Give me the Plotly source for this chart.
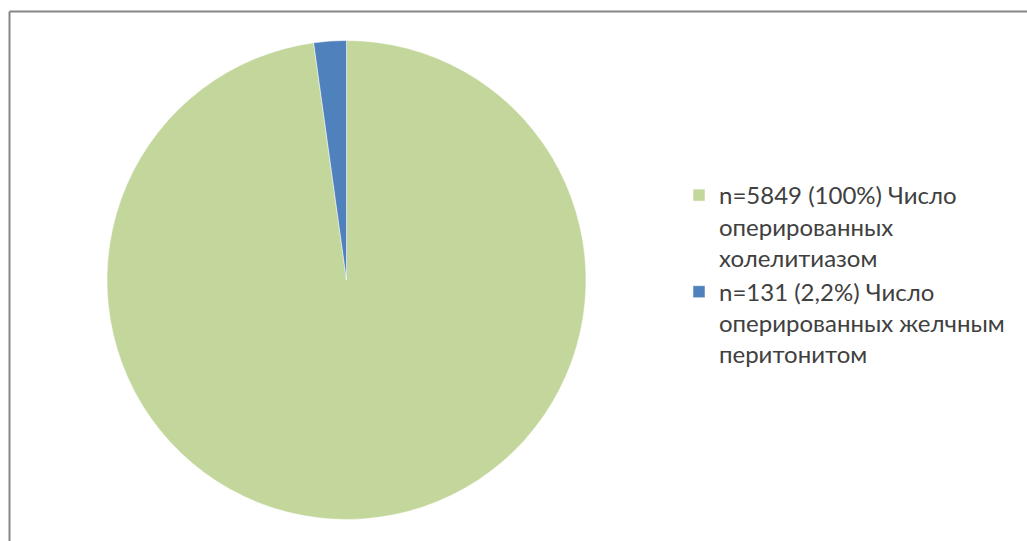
import plotly.graph_objects as go

labels = [
    "n=5849 (100%) Число<br>оперированных<br>холелитиазом",
    "n=131 (2,2%) Число<br>оперированных желчным<br>перитонитом",
]
values = [5849, 131]
colors = ["#C3D69B", "#4F81BD"]

W, H = 1027, 541

fig = go.Figure(
    go.Pie(
        labels=labels,
        values=values,
        sort=False,
        direction="clockwise",
        rotation=0,
        textinfo="none",
        hoverinfo="label+value",
        marker=dict(colors=colors, line=dict(color="#FFFFFF", width=0.5)),
        domain=dict(x=[107 / W, 586 / W], y=[1 - 520 / H, 1 - 40 / H]),
    )
)

fig.update_layout(
    width=W,
    height=H,
    margin=dict(l=0, r=0, t=0, b=0),
    paper_bgcolor="white",
    font=dict(family="Lato, Open Sans, sans-serif", color="#404040"),
    legend=dict(
        x=679 / W,
        y=1 - 173 / H,
        xanchor="left",
        yanchor="top",
        valign="top",
        font=dict(size=24, color="#404040"),
        itemwidth=30,
        bgcolor="rgba(0,0,0,0)",
    ),
    shapes=[
        dict(type="line", xref="paper", yref="paper", x0=9.5 / W, x1=1.0, y0=1 - 11.5 / H, y1=1 - 11.5 / H,
             line=dict(color="#868686", width=2)),
        dict(type="line", xref="paper", yref="paper", x0=9.5 / W, x1=9.5 / W, y0=0, y1=1 - 11.5 / H,
             line=dict(color="#868686", width=2)),
    ],
)

fig.write_html("out.html", config={"displayModeBar": False},
               post_script="document.body.style.margin='0';")
